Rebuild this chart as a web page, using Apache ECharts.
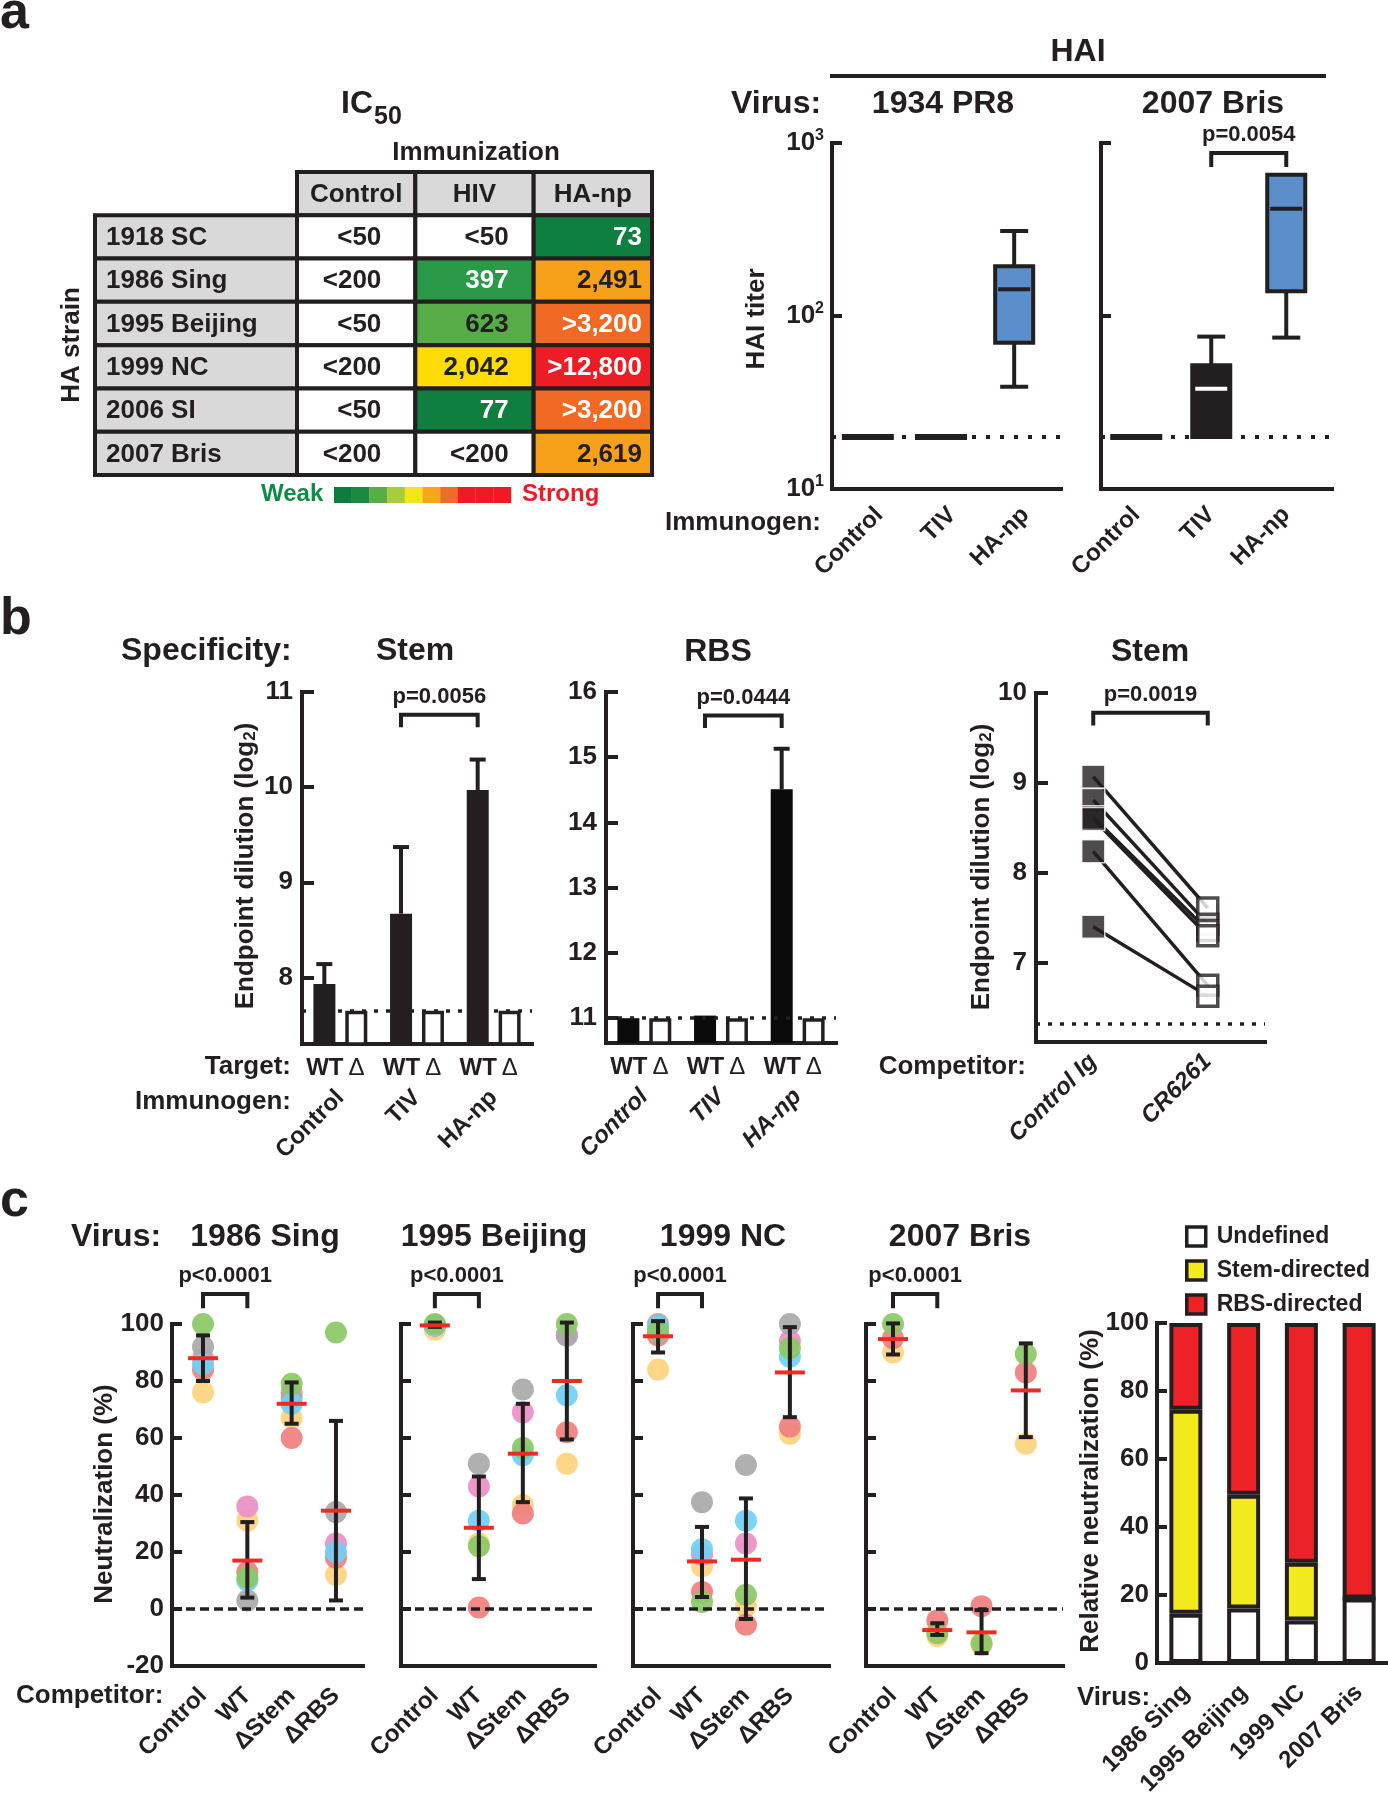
<!DOCTYPE html>
<html>
<head>
<meta charset="utf-8">
<script src="https://cdn.jsdelivr.net/npm/echarts@6/dist/echarts.min.js"></script>
<style>html,body{margin:0;padding:0;background:#fff}#c{width:1388px;height:1800px}</style>
</head>
<body>
<div id="c"></div>
<script>
// ================= DATA =================
// Panel a: IC50 table
const icStrains = ['1918 SC', '1986 Sing', '1995 Beijing', '1999 NC', '2006 SI', '2007 Bris'];
const icColumns = ['Control', 'HIV', 'HA-np'];
const icControl = ['<50', '<200', '<50', '<200', '<50', '<200'];
const icHIV = ['<50', '397', '623', '2,042', '77', '<200'];
const icHAnp = ['73', '2,491', '>3,200', '>12,800', '>3,200', '2,619'];
// Panel a: HAI titer boxes  [min, q1, median, q3, max]
const haiCats = ['Control', 'TIV', 'HA-np'];
const pr8Box = [[20, 20, 20, 20, 20], [20, 20, 20, 20, 20], [39, 70, 143, 194, 310]];
const brisBox = [[20, 20, 20, 20, 20], [20, 20, 38, 52, 76], [75, 139, 417, 655, 655]];
const haiLOD = 20;
// Panel b: endpoint dilutions (log2)
const bCats = ['Control', 'TIV', 'HA-np'];
const stemWT = [7.93, 8.67, 9.97];
const stemWTErr = [8.14, 9.37, 10.29];
const stemDelta = [7.65, 7.65, 7.65];
const stemLOD = 7.65;
const rbsWT = [11.0, 11.04, 14.51];
const rbsWTErr = [null, null, 15.13];
const rbsDelta = [11.0, 11.0, 11.0];
const rbsLOD = 11.0;
const pairCats = ['Control Ig', 'CR6261'];
const pairControlIg = [9.07, 8.81, 8.62, 8.60, 8.24, 7.40];
const pairCR6261 = [7.61, 7.43, 7.36, 7.30, 6.75, 6.63];
const pairLOD = 6.32;
// Panel c: neutralization (%) ; per competitor: [yellow, red, pink, gray, blue, green]
const cVirus = ['1986 Sing', '1995 Beijing', '1999 NC', '2007 Bris'];
const cCats = ['Control', 'WT', '\u0394Stem', '\u0394RBS'];
const singDots = [[76, 84, 88, 92, 86, 100], [31, 13, 36, 3, 10, 11], [67, 60, 76, 74, 72, 79], [12, 18, 23, 34, 20, 97]];
const beijingDots = [[98, 99.5, 99.5, 99.5, 99.5, 100], [23, 0.5, 43, 51, 31, 22], [36.5, 33.5, 69, 77, 54, 56.5], [51, 62, 96, 96, 75, 100]];
const ncDots = [[84, 96, 97, 100, 99, 97.5], [15, 6, 19, 37.5, 21, 2.5], [1, -5.5, 23, 50.5, 31, 5], [61.5, 64, 94, 100, 88.5, 91.5]];
const brisDots = [[90, 95, null, null, null, 100], [-9.5, -4, null, null, null, -8.5], [-12.5, 1, null, null, null, -12], [58, 83, null, null, null, 89.5]];
const singMean = [88, 17, 72, 34.5], singLo = [80, 4, 65, 3], singHi = [96, 30.5, 79.5, 66];
const beijingMean = [99.5, 28.5, 54.5, 80], beijingLo = [99, 10.5, 37.5, 59.5], beijingHi = [100.5, 46.5, 72, 100.5];
const ncMean = [95.7, 16.7, 17.3, 83], ncLo = [90, 4.2, -3.5, 67.3], ncHi = [101, 28.8, 38.8, 98.9];
const brisMean = [94.7, -7.4, -8.2, 76.7], brisLo = [89.3, -9.1, -15.5, 60.3], brisHi = [100.2, -5, -0.4, 93.2];
const cPValue = ['p<0.0001', 'p<0.0001', 'p<0.0001', 'p<0.0001'];
// Panel c: relative neutralization (%)
const relVirus = ['1986 Sing', '1995 Beijing', '1999 NC', '2007 Bris'];
const relUndefined = [14.5, 16, 12.5, 19];
const relStem = [60, 33.5, 17, 0];
const relRBS = [25.5, 50.5, 70.5, 81];
// Colour key of the IC50 table (Weak -> Strong)
const keyColors = ['#0d7d3e', '#1a8a43', '#57ad47', '#a8cd3b', '#f2e51d', '#f9a51b', '#f06a28', '#ed1c24', '#ed1c24', '#ed1c24'];

// ================= STYLE =================
const K = '#231f20';
const F = '"Liberation Sans", Arial, Helvetica, sans-serif';
const icFill = [
  ['#fff', '#fff', '#fff', '#fff', '#fff', '#fff'],
  ['#fff', '#2a9a48', '#56ad47', '#fcdc04', '#0e7f3f', '#fff'],
  ['#0e7f3f', '#f7a11b', '#f06a24', '#ec1d24', '#f06a24', '#f7a11b']
];
const icInk = [
  [K, K, K, K, K, K],
  [K, '#fff', K, K, '#fff', K],
  ['#fff', K, '#fff', '#fff', '#fff', K]
];
const icPad = [34, 25, 10];
const dotColors = ['#fdd27d', '#f07f7f', '#ea8fc6', '#a9a9a9', '#70cff4', '#8bc865'];

// ================= HELPERS =================
const AL = { show: true, onZero: false, lineStyle: { color: K, width: 4, cap: 'square' } };
const TL = { color: K, width: 4 };
function LBL(extra) { return Object.assign({ color: K, fontFamily: F, fontWeight: 'bold', fontSize: 26 }, extra); }
function T(text, x, y, size, o) {
  o = o || {};
  const st = { text: text, x: 0, y: 0, fill: o.color || K, fontSize: size, fontWeight: o.weight || 'bold', fontFamily: F,
    fontStyle: o.italic ? 'italic' : 'normal', align: o.align || 'left', verticalAlign: 'middle',
    textAlign: o.align || 'left', textVerticalAlign: 'middle' };
  if (o.rich) st.rich = o.rich;
  return { type: 'text', x: x, y: y, rotation: o.rot || 0, z: 50, silent: true, style: st };
}
function lod(v, dash, w) {
  return { symbol: 'none', silent: true, label: { show: false }, lineStyle: { color: K, type: dash, width: w }, emphasis: { disabled: true }, data: [{ yAxis: v }] };
}
function ln(x1, y1, x2, y2, c, w) { return { type: 'line', shape: { x1: x1, y1: y1, x2: x2, y2: y2 }, style: { stroke: c || K, lineWidth: w || 4 } }; }
function tableRender(cells) {
  return function (params, api) {
    const cell = cells[params.dataIndex];
    const p = api.coord([api.value(0), api.value(1)]);
    const s = api.size([1, 1]);
    const x0 = p[0] - s[0] / 2, y0 = p[1] - s[1] / 2;
    let tx = p[0];
    if (cell.align === 'right') tx = x0 + s[0] - cell.pad;
    if (cell.align === 'left') tx = x0 + cell.pad;
    return { type: 'group', children: [
      { type: 'rect', shape: { x: x0, y: y0, width: s[0], height: s[1] }, style: { fill: cell.fill, stroke: K, lineWidth: 4 } },
      { type: 'text', style: { text: cell.text, x: tx, y: p[1] + 1, fill: cell.ink, fontSize: 26, fontWeight: 'bold', fontFamily: F,
        align: cell.align, verticalAlign: 'middle', textAlign: cell.align, textVerticalAlign: 'middle' } }
    ] };
  };
}
function boxRender(fills, meds) {
  return function (params, api) {
    const i = params.dataIndex;
    const x = api.value(0);
    const v = [1, 2, 3, 4, 5].map(k => api.value(k));
    const ys = v.map(val => api.coord([x, val])[1]);
    const cx = api.coord([x, v[2]])[0];
    const ch = [];
    if (v[1] === v[3]) { ch.push(ln(cx - 26, ys[2], cx + 26, ys[2], K, 6)); return { type: 'group', children: ch }; }
    const hw = 19, cw = 14;
    if (v[4] > v[3]) ch.push(ln(cx, ys[3], cx, ys[4]), ln(cx - cw, ys[4], cx + cw, ys[4]));
    if (v[0] < v[1]) ch.push(ln(cx, ys[1], cx, ys[0]), ln(cx - cw, ys[0], cx + cw, ys[0]));
    ch.push({ type: 'rect', shape: { x: cx - hw, y: ys[3], width: 2 * hw, height: ys[1] - ys[3] }, style: { fill: fills[i], stroke: K, lineWidth: 4 } });
    ch.push(ln(cx - hw + 3, ys[2], cx + hw - 3, ys[2], meds[i], 4));
    return { type: 'group', children: ch };
  };
}
function errRender(offset) {
  return function (params, api) {
    const p0 = api.coord([api.value(0), api.value(1)]);
    const p1 = api.coord([api.value(0), api.value(2)]);
    const x = p0[0] + offset;
    return { type: 'group', children: [ln(x, p0[1], x, p1[1]), ln(x - 8, p1[1], x + 8, p1[1])] };
  };
}
function bracketRender(offset, labels) {
  return function (params, api) {
    const a = api.coord([api.value(0), api.value(2)]);
    const b = api.coord([api.value(1), api.value(2)]);
    const leg = api.coord([api.value(0), api.value(3)])[1];
    const xa = a[0] + offset, xb = b[0] + offset, y = a[1];
    return { type: 'group', children: [
      { type: 'polyline', shape: { points: [[xa, leg], [xa, y], [xb, y], [xb, leg]] }, style: { stroke: K, lineWidth: 4, fill: 'none' } },
      { type: 'text', style: { text: labels[params.dataIndex], x: (xa + xb) / 2, y: y - 18, fill: K, fontSize: 22, fontWeight: 'bold', fontFamily: F,
        align: 'center', verticalAlign: 'middle', textAlign: 'center', textVerticalAlign: 'middle' } }
    ] };
  };
}
function meanRender(params, api) {
  const c = api.value(0);
  const pm = api.coord([c, api.value(1)]), pl = api.coord([c, api.value(2)]), ph = api.coord([c, api.value(3)]);
  const x = pm[0];
  return { type: 'group', children: [
    ln(x, pl[1], x, ph[1], K, 4), ln(x - 7, pl[1], x + 7, pl[1], K, 4), ln(x - 7, ph[1], x + 7, ph[1], K, 4),
    ln(x - 15, pm[1], x + 15, pm[1], '#ee2a24', 4)
  ] };
}

// ================= LAYOUT =================
const grids = [
  { left: 297, top: 172, width: 355, height: 303 },
  { left: 95, top: 215.3, width: 202, height: 259.7 },
  { left: 832, top: 143, width: 229, height: 346 },
  { left: 1101, top: 143, width: 231, height: 346 },
  { left: 302, top: 692, width: 230, height: 352 },
  { left: 606, top: 692, width: 230, height: 351 },
  { left: 1036, top: 693, width: 229, height: 349 },
  { left: 172, top: 1324, width: 191, height: 342 },
  { left: 401, top: 1324, width: 194, height: 342 },
  { left: 633, top: 1324, width: 196, height: 342 },
  { left: 866, top: 1324, width: 197, height: 342 },
  { left: 1157, top: 1323, width: 231, height: 340 }
];
const cXRange = [[-0.70, 3.61], [-0.77, 3.64], [-0.57, 3.89], [-0.61, 3.84]];
const wtRich = { d: { fontSize: 24, fontWeight: 'normal', fontFamily: F, color: K, padding: [0, 10, 0, 5] } };

const xAxes = [
  { gridIndex: 0, type: 'category', data: icColumns, show: false },
  { gridIndex: 1, type: 'category', data: ['strain'], show: false },
  { gridIndex: 2, type: 'value', min: -0.49, max: 2.64, axisLine: AL, axisTick: { show: false }, splitLine: { show: false },
    axisLabel: LBL({ fontSize: 24, rotate: 45, margin: 11, verticalAlign: 'top', lineHeight: 32, customValues: [0, 1, 2], formatter: v => haiCats[Math.round(v)] }) },
  { gridIndex: 3, type: 'value', min: -0.47, max: 2.61, axisLine: AL, axisTick: { show: false }, splitLine: { show: false },
    axisLabel: LBL({ fontSize: 24, rotate: 45, margin: 22, customValues: [0, 1, 2], formatter: v => haiCats[Math.round(v)] }) },
  { gridIndex: 4, type: 'category', data: bCats, axisLine: AL, axisTick: { show: false },
    axisLabel: LBL({ fontSize: 24, margin: 12, interval: 0, formatter: () => 'WT{d|\u0394}', rich: wtRich }) },
  { gridIndex: 4, type: 'category', data: bCats, position: 'bottom', offset: 38, axisLine: { show: false }, axisTick: { show: false },
    axisLabel: LBL({ fontSize: 24, rotate: 45, margin: 12, interval: 0 }) },
  { gridIndex: 5, type: 'category', data: bCats, axisLine: AL, axisTick: { show: false },
    axisLabel: LBL({ fontSize: 24, margin: 12, interval: 0, formatter: () => 'WT{d|\u0394}', rich: wtRich }) },
  { gridIndex: 5, type: 'category', data: bCats, position: 'bottom', offset: 38, axisLine: { show: false }, axisTick: { show: false },
    axisLabel: LBL({ fontSize: 24, rotate: 45, margin: 12, interval: 0, fontStyle: 'italic' }) },
  { gridIndex: 6, type: 'category', data: pairCats, axisLine: AL, axisTick: { show: false },
    axisLabel: LBL({ fontSize: 24, rotate: 45, margin: 16, interval: 0, fontStyle: 'italic' }) }
];
cXRange.forEach((r, p) => xAxes.push({ gridIndex: 7 + p, type: 'value', min: r[0], max: r[1], axisLine: AL, axisTick: { show: false }, splitLine: { show: false },
  axisLabel: LBL({ fontSize: 24, rotate: 45, margin: 26, customValues: [0, 1, 2, 3], formatter: v => cCats[Math.round(v)] }) }));
xAxes.push({ gridIndex: 11, type: 'category', data: relVirus, axisLine: AL, axisTick: { show: false },
  axisLabel: LBL({ fontSize: 24, rotate: 45, margin: 26, interval: 0 }) });

const supRich = { s: { fontSize: 16, fontWeight: 'bold', fontFamily: F, color: K, verticalAlign: 'top', lineHeight: 30 } };
const yAxes = [
  { gridIndex: 0, type: 'category', data: [''].concat(icStrains), inverse: true, show: false },
  { gridIndex: 1, type: 'category', data: icStrains, inverse: true, show: false },
  { gridIndex: 2, type: 'log', logBase: 10, min: 10, max: 1000, axisLine: AL, splitLine: { show: false },
    axisTick: { show: true, inside: true, length: 10, lineStyle: TL },
    axisLabel: LBL({ margin: 8, formatter: v => '10{s|' + Math.round(Math.log10(v)) + '}', rich: supRich, lineHeight: 30 }) },
  { gridIndex: 3, type: 'log', logBase: 10, min: 10, max: 1000, axisLine: AL, splitLine: { show: false },
    axisTick: { show: true, inside: true, length: 10, lineStyle: TL }, axisLabel: { show: false } },
  { gridIndex: 4, type: 'value', min: 7.3, max: 11, axisLine: AL, splitLine: { show: false },
    axisTick: { show: true, inside: true, length: 12, lineStyle: TL, customValues: [8, 9, 10, 11] },
    axisLabel: LBL({ margin: 9, customValues: [8, 9, 10, 11] }) },
  { gridIndex: 5, type: 'value', min: 10.62, max: 16, axisLine: AL, splitLine: { show: false },
    axisTick: { show: true, inside: true, length: 12, lineStyle: TL, customValues: [11, 12, 13, 14, 15, 16] },
    axisLabel: LBL({ margin: 9, customValues: [11, 12, 13, 14, 15, 16] }) },
  { gridIndex: 6, type: 'value', min: 6.12, max: 10, axisLine: AL, splitLine: { show: false },
    axisTick: { show: true, inside: true, length: 12, lineStyle: TL, customValues: [7, 8, 9, 10] },
    axisLabel: LBL({ margin: 9, customValues: [7, 8, 9, 10] }) }
];
for (let p = 0; p < 4; p++) yAxes.push({ gridIndex: 7 + p, type: 'value', min: -20, max: 100, interval: 20, axisLine: AL, splitLine: { show: false },
  axisTick: { show: true, inside: true, length: 10, lineStyle: TL }, axisLabel: LBL({ show: p === 0, margin: 8 }) });
yAxes.push({ gridIndex: 11, type: 'value', min: 0, max: 100, interval: 20, axisLine: AL, splitLine: { show: false },
  axisTick: { show: true, inside: true, length: 10, lineStyle: TL }, axisLabel: LBL({ margin: 8 }) });

// ================= SERIES =================
const series = [];
// IC50 table
const tableCells = [];
icColumns.forEach((name, c) => tableCells.push({ pos: [c, 0], text: name, fill: '#d9d9d9', ink: K, align: 'center', pad: 0 }));
const icCols = [icControl, icHIV, icHAnp];
icStrains.forEach((s, r) => icCols.forEach((vals, c) => tableCells.push({ pos: [c, r + 1], text: vals[r], fill: icFill[c][r], ink: icInk[c][r], align: 'right', pad: icPad[c] })));
const labelCells = icStrains.map((s, r) => ({ pos: [0, r], text: s, fill: '#d9d9d9', ink: K, align: 'left', pad: 11 }));
series.push({ type: 'custom', xAxisIndex: 0, yAxisIndex: 0, silent: true, renderItem: tableRender(tableCells), data: tableCells.map(c => c.pos) });
series.push({ type: 'custom', xAxisIndex: 1, yAxisIndex: 1, silent: true, renderItem: tableRender(labelCells), data: labelCells.map(c => c.pos) });

// HAI boxes
series.push({ type: 'custom', xAxisIndex: 2, yAxisIndex: 2, silent: true, renderItem: boxRender([K, K, '#5b8ecb'], [K, K, K]),
  data: pr8Box.map((b, i) => [i].concat(b)), markLine: lod(haiLOD, [4, 10], 4) });
series.push({ type: 'custom', xAxisIndex: 3, yAxisIndex: 3, silent: true, renderItem: boxRender([K, K, '#5b8ecb'], [K, '#fff', K]),
  data: brisBox.map((b, i) => [i].concat(b)), markLine: lod(haiLOD, [4, 10], 4) });
series.push({ type: 'custom', xAxisIndex: 3, yAxisIndex: 3, silent: true, renderItem: bracketRender(0, ['p=0.0054']), data: [[1, 2, 875, 727]] });

// Panel b: Stem
series.push({ type: 'bar', xAxisIndex: 4, yAxisIndex: 4, silent: true, data: stemWT, barWidth: 22, barGap: '45%', itemStyle: { color: K }, markLine: lod(stemLOD, [4, 8], 3.5) });
series.push({ type: 'bar', xAxisIndex: 4, yAxisIndex: 4, silent: true, data: stemDelta, barWidth: 22, barGap: '45%', itemStyle: { color: '#fff', borderColor: K, borderWidth: 3.5 } });
series.push({ type: 'custom', xAxisIndex: 4, yAxisIndex: 4, silent: true, renderItem: errRender(-16),
  data: stemWT.map((v, i) => [i, v, stemWTErr[i]]).filter(d => d[2] != null) });
series.push({ type: 'custom', xAxisIndex: 4, yAxisIndex: 4, silent: true, renderItem: bracketRender(-16, ['p=0.0056']), data: [[1, 2, 10.76, 10.63]] });
// Panel b: RBS
series.push({ type: 'bar', xAxisIndex: 6, yAxisIndex: 5, silent: true, data: rbsWT, barWidth: 22, barGap: '45%', itemStyle: { color: '#0a0a0a' }, markLine: lod(rbsLOD, [4, 8], 3.5) });
series.push({ type: 'bar', xAxisIndex: 6, yAxisIndex: 5, silent: true, data: rbsDelta, barWidth: 22, barGap: '45%', itemStyle: { color: '#fff', borderColor: K, borderWidth: 3.5 } });
series.push({ type: 'custom', xAxisIndex: 6, yAxisIndex: 5, silent: true, renderItem: errRender(-16),
  data: rbsWT.map((v, i) => [i, v, rbsWTErr[i]]).filter(d => d[2] != null) });
series.push({ type: 'custom', xAxisIndex: 6, yAxisIndex: 5, silent: true, renderItem: bracketRender(-16, ['p=0.0444']), data: [[1, 2, 15.64, 15.45]] });
// Panel b: paired competition
pairControlIg.forEach((v, i) => series.push({ type: 'line', xAxisIndex: 8, yAxisIndex: 6, silent: true, symbol: 'none', data: [v, pairCR6261[i]], lineStyle: { color: K, width: 3.5 }, z: 2 }));
series.push({ type: 'scatter', xAxisIndex: 8, yAxisIndex: 6, silent: true, symbol: 'rect', symbolSize: 23, data: pairControlIg.map(v => [0, v]),
  itemStyle: { color: K, borderColor: '#fff', borderWidth: 1.5 }, z: 3, markLine: lod(pairLOD, [4, 8], 3.5) });
series.push({ type: 'scatter', xAxisIndex: 8, yAxisIndex: 6, silent: true, symbol: 'rect', symbolSize: 20, data: pairCR6261.map(v => [1, v]),
  itemStyle: { color: '#fff', borderColor: K, borderWidth: 3.5 }, z: 3 });
series.push({ type: 'custom', xAxisIndex: 8, yAxisIndex: 6, silent: true, renderItem: bracketRender(0, ['p=0.0019']), data: [[0, 1, 9.78, 9.64]] });

// Panel c: dot plots
const cDots = [singDots, beijingDots, ncDots, brisDots];
const cMean = [singMean, beijingMean, ncMean, brisMean];
const cLo = [singLo, beijingLo, ncLo, brisLo];
const cHi = [singHi, beijingHi, ncHi, brisHi];
for (let p = 0; p < 4; p++) {
  dotColors.forEach((col, k) => series.push({ type: 'scatter', xAxisIndex: 9 + p, yAxisIndex: 7 + p, silent: true, symbolSize: 22,
    data: cDots[p].map((cat, ci) => [ci, cat[k]]).filter(d => d[1] != null), itemStyle: { color: col, opacity: 0.92 }, z: 2 }));
  series.push({ type: 'custom', xAxisIndex: 9 + p, yAxisIndex: 7 + p, silent: true, renderItem: meanRender, z: 4,
    data: cMean[p].map((m, ci) => [ci, m, cLo[p][ci], cHi[p][ci]]), markLine: lod(0, [9, 5], 3.5) });
  series.push({ type: 'custom', xAxisIndex: 9 + p, yAxisIndex: 7 + p, silent: true, renderItem: bracketRender(0, [cPValue[p]]), data: [[0, 1, 110.5, 105.5]] });
}
// Panel c: relative neutralization stacked bars
[['Undefined', relUndefined, '#ffffff'], ['Stem-directed', relStem, '#f2ea1c'], ['RBS-directed', relRBS, '#ec2227']].forEach(s => series.push({
  type: 'bar', name: s[0], stack: 'rel', xAxisIndex: 13, yAxisIndex: 11, silent: true, barWidth: 33,
  data: s[1], itemStyle: { color: s[2], borderColor: K, borderWidth: 4 } }));

// ================= TEXT & DECOR =================
const sub2 = { s: { fontSize: 17, fontWeight: 'bold', fontFamily: F, fill: K, color: K, verticalAlign: 'bottom' } };
const graphics = [
  T('a', 0, 14, 52), T('b', 0, 620, 52), T('c', 0, 1202, 52),
  T('IC', 341, 104, 32), T('50', 374, 117, 25),
  T('Immunization', 476, 153, 26, { align: 'center' }),
  T('HA strain', 72, 345, 26, { align: 'center', rot: Math.PI / 2 }),
  T('Weak', 261, 494, 24, { color: '#0e8c45' }), T('Strong', 522, 494, 24, { color: '#ed1c24' }),
  T('HAI', 1078, 52, 32, { align: 'center' }),
  { type: 'line', shape: { x1: 830, y1: 76, x2: 1326, y2: 76 }, style: { stroke: K, lineWidth: 4 }, silent: true },
  T('Virus:', 731, 104, 32), T('1934 PR8', 943, 104, 32, { align: 'center' }), T('2007 Bris', 1213, 104, 32, { align: 'center' }),
  T('HAI titer', 757, 319, 26, { align: 'center', rot: Math.PI / 2 }),
  T('Immunogen:', 821, 523, 26, { align: 'right' }),
  T('Specificity:', 121, 651, 32), T('Stem', 415, 651, 32, { align: 'center' }), T('RBS', 718, 652, 32, { align: 'center' }), T('Stem', 1150, 652, 32, { align: 'center' }),
  T('Endpoint dilution (log{s|2})', 246, 866, 26, { align: 'center', rot: Math.PI / 2, rich: sub2 }),
  T('Endpoint dilution (log{s|2})', 982, 867, 26, { align: 'center', rot: Math.PI / 2, rich: sub2 }),
  T('Target:', 291, 1067, 26, { align: 'right' }), T('Immunogen:', 291, 1102, 26, { align: 'right' }),
  T('Competitor:', 1026, 1067, 26, { align: 'right' }),
  T('Virus:', 71, 1237, 32),
  T('Neutralization (%)', 105, 1494, 26, { align: 'center', rot: Math.PI / 2 }),
  T('Relative neutralization (%)', 1091, 1491, 26, { align: 'center', rot: Math.PI / 2 }),
  T('Competitor:', 16, 1696, 26), T('Virus:', 1077, 1698, 26)
];
const cTitleX = [265, 494, 723, 960];
cVirus.forEach((v, i) => graphics.push(T(v, cTitleX[i], 1237, 32, { align: 'center' })));
keyColors.forEach((col, i) => graphics.push({ type: 'rect', silent: true, shape: { x: 334 + i * 17.7, y: 487, width: 17.9, height: 16 }, style: { fill: col } }));

const option = {
  animation: false,
  backgroundColor: '#ffffff',
  textStyle: { fontFamily: F },
  grid: grids,
  xAxis: xAxes,
  yAxis: yAxes,
  legend: { data: ['Undefined', 'Stem-directed', 'RBS-directed'], orient: 'vertical', left: 1180, top: 1220, itemWidth: 19, itemHeight: 19, itemGap: 11,
    icon: 'rect', selectedMode: false, itemStyle: { borderColor: K, borderWidth: 3.5 },
    textStyle: { fontSize: 23, fontWeight: 'bold', color: K, fontFamily: F, padding: [0, 0, 0, 6] } },
  graphic: graphics,
  series: series
};
const chart = echarts.init(document.getElementById('c'), null, { renderer: 'canvas', width: 1388, height: 1800 });
chart.setOption(option);
</script>
</body>
</html>
